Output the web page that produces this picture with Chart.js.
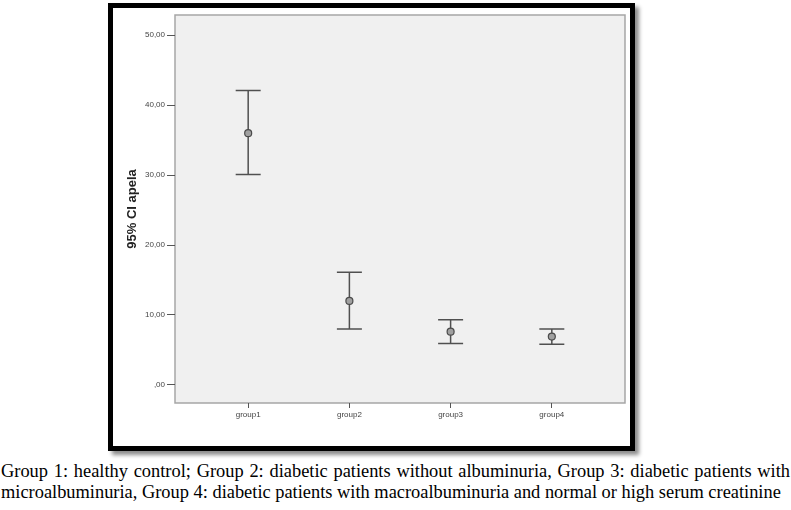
<!DOCTYPE html>
<html>
<head>
<meta charset="utf-8">
<script src="https://cdn.jsdelivr.net/npm/chart.js@4.4.1/dist/chart.umd.min.js"></script>
<style>
  html, body { margin: 0; padding: 0; background: #fff; }
  body { width: 791px; height: 510px; position: relative; overflow: hidden; }
  #frame { position: absolute; left: 108px; top: 3px; width: 527px; height: 448px;
           box-sizing: border-box; border: 5px solid #000; background: #fff;
           box-shadow: 4px 4px 4px rgba(0,0,0,0.45); }
  #wrap { position: absolute; left: 0; top: 0; width: 791px; height: 450px; }
  #caption { position: absolute; left: 1px; top: 461px; width: 789px; margin: 0;
             font-family: "Liberation Serif", "Times New Roman", serif; font-size: 18.4px;
             line-height: 21px; color: #000; }
  #caption .l1 { text-align: justify; text-align-last: justify; white-space: normal; }
  #caption .l2 { text-align: left; white-space: nowrap; }
</style>
</head>
<body>
<div id="frame"></div>
<div id="wrap"><canvas id="c" width="791" height="450"></canvas></div>
<div id="caption"><div class="l1">Group 1: healthy control; Group 2: diabetic patients without albuminuria, Group 3: diabetic patients with</div><div class="l2">microalbuminuria, Group 4: diabetic patients with macroalbuminuria and normal or high serum creatinine</div></div>
<script>
// ---- data ----
const categories = ["group1", "group2", "group3", "group4"];
const means = [36.0, 12.0, 7.6, 6.9];
const upper = [42.1, 16.1, 9.3, 8.0];
const lower = [30.1, 8.0, 5.9, 5.8];
const yTicks = [0, 10, 20, 30, 40, 50];
const yTickLabels = [",00", "10,00", "20,00", "30,00", "40,00", "50,00"];
const yTitle = "95% CI apela";

const errorBars = {
  id: 'errorBars',
  beforeDraw(chart) {
    const a = chart.chartArea, ctx = chart.ctx;
    ctx.save();
    ctx.fillStyle = '#f0f0f0';
    ctx.fillRect(a.left, a.top, a.right - a.left, a.bottom - a.top);
    ctx.strokeStyle = '#a6a6a6';
    ctx.lineWidth = 1.5;
    ctx.strokeRect(a.left, a.top, a.right - a.left, a.bottom - a.top);
    ctx.restore();
  },
  beforeDatasetsDraw(chart) {
    const xs = chart.scales.x, ys = chart.scales.y, ctx = chart.ctx;
    ctx.save();
    ctx.strokeStyle = '#505050';
    ctx.lineWidth = 1.5;
    const hw = 12.5;
    categories.forEach((c, i) => {
      const x = xs.getPixelForValue(i + 1);
      const yh = ys.getPixelForValue(upper[i]);
      const yl = ys.getPixelForValue(lower[i]);
      ctx.beginPath();
      ctx.moveTo(x, yh); ctx.lineTo(x, yl);
      ctx.moveTo(x - hw, yh); ctx.lineTo(x + hw, yh);
      ctx.moveTo(x - hw, yl); ctx.lineTo(x + hw, yl);
      ctx.stroke();
    });
    ctx.restore();
  }
};

new Chart(document.getElementById('c'), {
  type: 'scatter',
  data: {
    datasets: [{
      data: means.map((m, i) => ({ x: i + 1, y: m })),
      pointRadius: 3.5,
      pointBackgroundColor: '#a0a0a0',
      pointBorderColor: '#4a4a4a',
      pointBorderWidth: 1.2
    }]
  },
  options: {
    responsive: false,
    animation: false,
    events: [],
    layout: { padding: { left: 125, right: 166, top: 15, bottom: 0 } },
    plugins: { legend: { display: false }, tooltip: { enabled: false } },
    scales: {
      x: {
        type: 'linear', min: 0.277, max: 4.723,
        afterBuildTicks: s => { s.ticks = categories.map((c, i) => ({ value: i + 1 })); },
        afterFit: s => { s.height = 47; },
        grid: { drawOnChartArea: false, drawTicks: true, tickLength: 5, color: '#555', lineWidth: 1 },
        border: { display: false },
        ticks: { padding: 2, color: '#444', font: { family: 'Liberation Sans, Arial', size: 8 },
                 callback: (v) => categories[Math.round(v) - 1] || '' }
      },
      y: {
        type: 'linear', min: -2.6, max: 52.9,
        afterBuildTicks: s => { s.ticks = yTicks.map(v => ({ value: v })); },
        afterFit: s => { s.width = 50; },
        grid: { drawOnChartArea: false, drawTicks: true, tickLength: 8, color: '#555', lineWidth: 1 },
        border: { display: false },
        ticks: { padding: 2, color: '#444', font: { family: 'Liberation Sans, Arial', size: 8 },
                 callback: (v) => { const k = yTicks.indexOf(v); return k >= 0 ? yTickLabels[k] : ''; } },
        title: { display: true, text: yTitle, color: '#222', padding: 0,
                 font: { family: 'Liberation Sans, Arial', size: 13, weight: 'bold' } }
      }
    }
  },
  plugins: [errorBars]
});
</script>
</body>
</html>
